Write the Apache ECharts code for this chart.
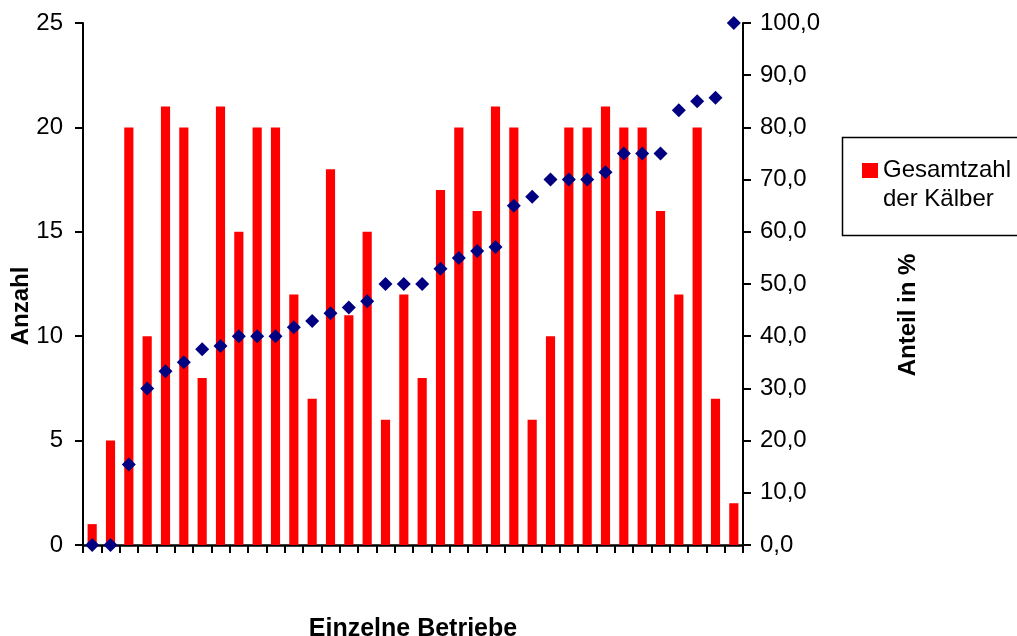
<!DOCTYPE html>
<html lang="de">
<head>
    <meta charset="UTF-8">
    <title>Kälber je Betrieb</title>
    <script src="https://cdn.jsdelivr.net/npm/echarts@6.0.0/dist/echarts.min.js"></script>
</head>
<body style="margin:0;background:#fff;">
    <div id="chart" style="width: 1017px; height: 636px;"></div>

    <script>
        // Einzelne Betriebe (36)
        const betriebe = [];
        for (let i = 1; i <= 36; i++) betriebe.push('B' + i);

        // Gesamtzahl der Kälber (linke Achse)
        const kaelber = [1, 5, 20, 10, 21, 20, 8, 21, 15, 20, 20, 12, 7, 18, 11, 15, 6, 12,
                         8, 17, 20, 16, 21, 20, 6, 10, 20, 20, 21, 20, 20, 16, 12, 20, 7, 2];

        // Anteil in % (rechte Achse)
        const anteil = [0, 0, 15.4, 30, 33.3, 35, 37.5, 38.1, 40, 40, 40, 41.7, 42.9, 44.4, 45.5, 46.7, 50, 50,
                        50, 52.9, 55, 56.3, 57.1, 65, 66.7, 70, 70, 70, 71.4, 75, 75, 75, 83.3, 85, 85.7, 100];

        const font = 'Liberation Sans, Arial, sans-serif';
        const black = '#000';

        let chart = echarts.init(document.getElementById('chart'));

        // jede Achse bekommt ihr eigenes Objekt (ECharts verändert übergebene Objekte)
        function tick() {
            return { show: true, inside: false, interval: 0, length: 8, lineStyle: { color: black, width: 2 } };
        }
        function axisLine(w) {
            return { show: true, lineStyle: { color: black, width: w } };
        }

        let option = {
            backgroundColor: '#fff',
            animation: false,
            textStyle: { fontFamily: font, color: black },
            grid: { left: 83, right: 274, top: 23, bottom: 91, containLabel: false, outerBoundsMode: 'none' },
            legend: {
                data: ['Gesamtzahl der Kälber'],
                left: 862,
                top: 127,
                padding: 0,
                icon: 'rect',
                itemWidth: 16,
                itemHeight: 15,
                // leere erste Zeile, damit "Gesamtzahl" auf Höhe des Symbols steht
                formatter: function () { return '\nGesamtzahl\nder Kälber'; },
                textStyle: { fontSize: 24, lineHeight: 29, color: black, fontFamily: font }
            },
            // Rahmen um die Legende
            graphic: [{
                type: 'rect',
                left: 840,
                top: 135,
                shape: { width: 200, height: 98 },
                style: { fill: 'none', stroke: black, lineWidth: 1.5 },
                silent: true
            }],
            xAxis: {
                type: 'category',
                data: betriebe,
                name: 'Einzelne Betriebe',
                nameLocation: 'middle',
                nameGap: 72,
                nameMoveOverlap: false,
                nameTextStyle: { fontSize: 25, fontWeight: 'bold', color: black },
                axisLine: axisLine(2.5),
                axisTick: tick(),
                axisLabel: { show: false, interval: 0 }
            },
            yAxis: [
                {
                    type: 'value',
                    min: 0, max: 25, interval: 5,
                    name: 'Anzahl',
                    nameLocation: 'middle',
                    nameRotate: 90,
                    nameGap: 50,
                    nameMoveOverlap: false,
                    nameTextStyle: { fontSize: 24, fontWeight: 'bold', color: black, padding: [0, 44, 0, 0] },
                    splitLine: { show: false },
                    axisLine: axisLine(2),
                    axisTick: tick(),
                    axisLabel: { fontSize: 24, color: black, margin: 20 }
                },
                {
                    type: 'value',
                    min: 0, max: 100, interval: 10,
                    position: 'right',
                    name: 'Anteil in %',
                    nameLocation: 'middle',
                    nameRotate: 90,
                    nameGap: 153,
                    nameMoveOverlap: false,
                    nameTextStyle: { fontSize: 24, fontWeight: 'bold', color: black, padding: [0, 62, 0, 0] },
                    splitLine: { show: false },
                    axisLine: axisLine(2),
                    axisTick: tick(),
                    axisLabel: {
                        fontSize: 24, color: black, margin: 17,
                        formatter: function (v) { return v.toFixed(1).replace('.', ','); }
                    }
                }
            ],
            series: [
                {
                    name: 'Gesamtzahl der Kälber',
                    type: 'bar',
                    yAxisIndex: 0,
                    barWidth: '50%',
                    itemStyle: { color: '#ff0000' },
                    data: kaelber
                },
                {
                    name: 'Anteil',
                    type: 'scatter',
                    yAxisIndex: 1,
                    symbol: 'diamond',
                    symbolSize: 14,
                    z: 5,
                    itemStyle: { color: '#000080', opacity: 1 },
                    data: anteil
                }
            ]
        };

        chart.setOption(option);
    </script>
</body>
</html>
